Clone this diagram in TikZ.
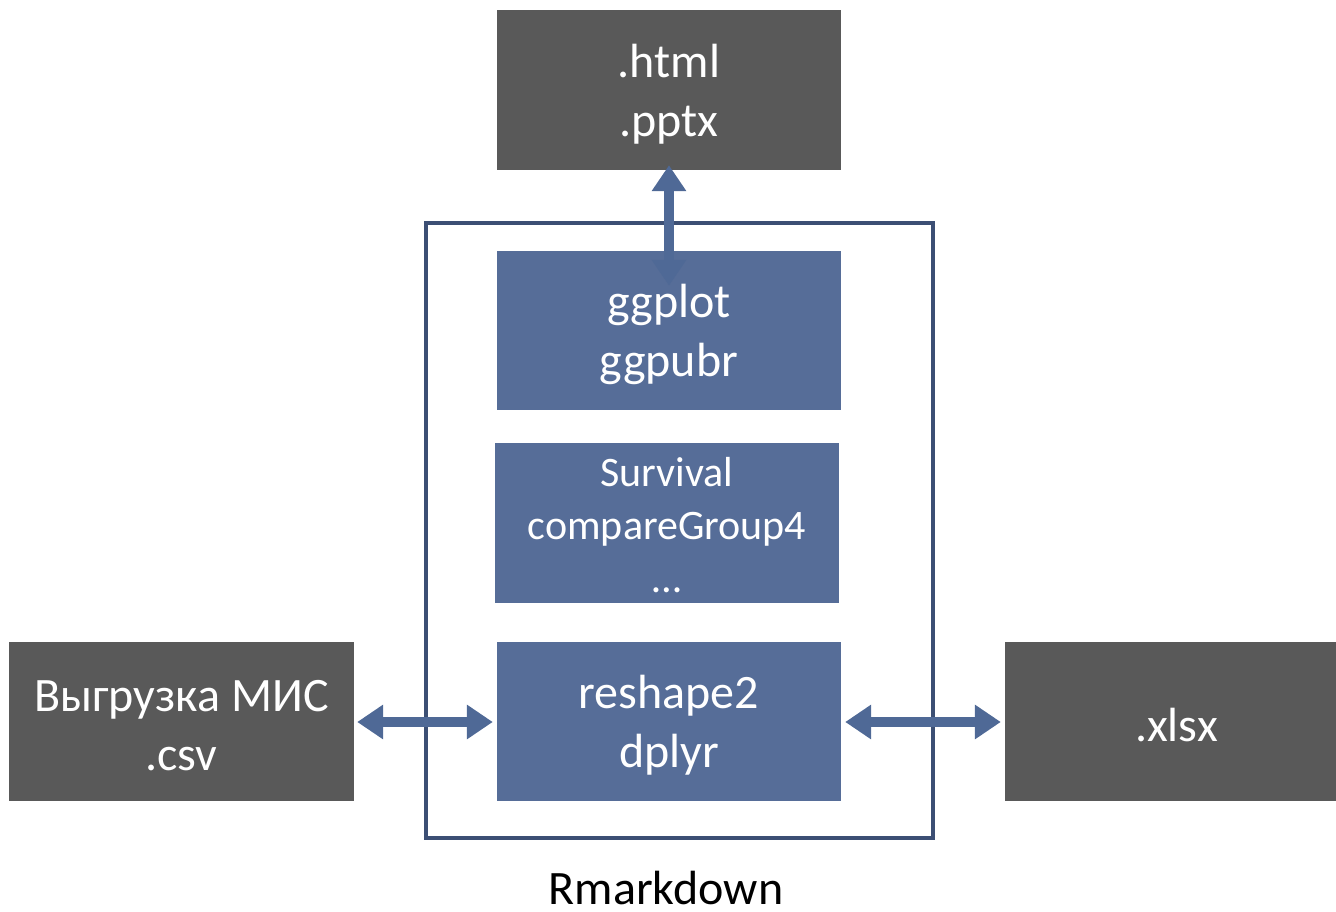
\documentclass[tikz,border=0pt]{standalone}
\usepackage{fontspec}
\setmainfont{Carlito}
\usetikzlibrary{arrows.meta}
\definecolor{boxgray}{HTML}{595959}
\definecolor{boxblue}{HTML}{566D98}
\definecolor{arrblue}{HTML}{4F6996}
\definecolor{frameblue}{HTML}{3C4F74}
\begin{document}
\begin{tikzpicture}[x=1pt,y=-1pt,
  graybox/.style={fill=boxgray,inner sep=0pt},
  bluebox/.style={fill=boxblue,inner sep=0pt},
  boxtext/.style={text=white,inner sep=0pt,align=center,font=\fontsize{48}{59}\selectfont},
  dblarrow/.style={draw=arrblue,line width=10pt,{Triangle[length=26pt,width=33pt]}-{Triangle[length=26pt,width=33pt]}}
]
\useasboundingbox (0,0) rectangle (1336,912);
\node[draw=frameblue,line width=4.5pt,minimum width=507pt,minimum height=615pt,inner sep=0pt] (frame) at (679.5,530.5) {};
\node[graybox,minimum width=344pt,minimum height=160pt] (html) at (669,90) {};
\node[boxtext] (htmlt) at ([yshift=-4pt]html.center) {.html\\.pptx};
\node[bluebox,minimum width=344pt,minimum height=159pt] (gg) at (669,330.5) {};
\node[boxtext] (ggt) at ([yshift=-4pt]gg.center) {ggplot\\ggpubr};
\node[bluebox,minimum width=344pt,minimum height=160pt] (surv) at (667,523) {};
\node[boxtext,font=\fontsize{42}{53}\selectfont] (survt) at ([yshift=-2pt]surv.center) {Survival\\compareGroup4\\…};
\node[bluebox,minimum width=344pt,minimum height=159pt] (resh) at (669,721.5) {};
\node[boxtext] (resht) at ([yshift=-4pt]resh.center) {reshape2\\dplyr};
\node[graybox,minimum width=345pt,minimum height=159pt] (mis) at (181.5,721.5) {};
\node[boxtext] (mist) at ([yshift=-4pt]mis.center) {Выгрузка МИС\\.csv};
\node[graybox,minimum width=331pt,minimum height=159pt] (xlsx) at (1170.5,721.5) {};
\node[boxtext] (xlsxt) at ([yshift=-4pt,xshift=6pt]xlsx.center) {.xlsx};
\node[font=\fontsize{48}{59}\selectfont,inner sep=0pt] (rmd) at (666,888) {Rmarkdown};
\draw[dblarrow] ([xshift=3pt]mis.east |- 0,722) -- ([xshift=-4pt]resh.west |- 0,722);
\draw[dblarrow] ([xshift=4pt]resh.east |- 0,722) -- ([xshift=-4pt]xlsx.west |- 0,722);
\draw[dblarrow] (gg.north -| 669,0) ++(0,35) coordinate (gtip) (gtip) -- ([yshift=5pt]html.south);
\end{tikzpicture}
\end{document}
